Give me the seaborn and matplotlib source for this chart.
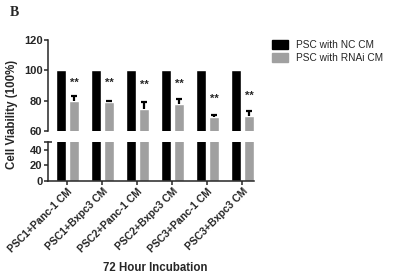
import numpy as np
import pandas as pd
import seaborn as sns
import matplotlib.pyplot as plt
from matplotlib.patches import Patch

# values
groups = ['PSC1+Panc-1 CM', 'PSC1+Bxpc3 CM', 'PSC2+Panc-1 CM',
          'PSC2+Bxpc3 CM', 'PSC3+Panc-1 CM', 'PSC3+Bxpc3 CM']
series = ['PSC with NC CM', 'PSC with RNAi CM']
nc_values = [100, 100, 100, 100, 100, 100]
rnai_values = [80.0, 78.9, 74.3, 78.0, 69.5, 69.7]
rnai_err = [3.4, 1.0, 4.8, 3.3, 1.3, 3.7]
star_y = [91.5, 91.5, 90.5, 91, 81, 83]
colors = ['#000000', '#a0a0a0']

df = pd.DataFrame({
    'Group': groups * 2,
    'Series': [series[0]] * 6 + [series[1]] * 6,
    'Viability': nc_values + rnai_values,
})

sns.set_style('ticks')
plt.rcParams['font.family'] = ['Liberation Sans', 'DejaVu Sans']

fig = plt.figure(figsize=(3.98, 2.76), dpi=100)
ax_top = fig.add_axes([48 / 398, 145 / 276, 206 / 398, 91 / 276])
ax_bot = fig.add_axes([48 / 398, 95 / 276, 206 / 398, 39.3 / 276])

for ax in (ax_top, ax_bot):
    sns.barplot(data=df, x='Group', y='Viability', hue='Series', palette=colors,
                order=groups, hue_order=series, width=0.74, gap=0.216,
                errorbar=None, legend=False, ax=ax)
    ax.set_xlim(-0.557, 5.33)
    ax.set_xlabel('')
    ax.set_ylabel('')
    sns.despine(ax=ax)

# upper-only error bars and significance stars on the RNAi bars (top axis)
rnai_patches = ax_top.patches[6:12]
xs = np.array([p.get_x() + p.get_width() / 2 for p in rnai_patches])
tops = np.array(rnai_values) + np.array(rnai_err)
ax_top.vlines(xs, rnai_values, tops, color='black', linewidth=1.6)
ax_top.hlines(tops, xs - 0.075, xs + 0.075, color='black', linewidth=1.6)
for x, y in zip(xs, star_y):
    ax_top.text(x, y, '**', ha='center', va='center', fontsize=8, fontweight='bold')

ax_top.set_ylim(60, 120)
ax_top.set_yticks([60, 80, 100, 120])
ax_top.spines['bottom'].set_visible(False)
ax_top.tick_params(axis='x', bottom=False, labelbottom=False)

ax_bot.set_ylim(0, 50)
ax_bot.set_yticks([0, 20, 40])
ax_bot.set_yticks([50], minor=True)
ax_bot.tick_params(axis='y', which='minor', direction='inout', length=6, width=1.1)

for ax in (ax_top, ax_bot):
    ax.tick_params(axis='both', which='major', length=3, width=1.1, labelsize=8, pad=1)
    for s in ('left', 'bottom'):
        ax.spines[s].set_linewidth(1.1)
    for lab in ax.get_yticklabels():
        lab.set_fontweight('bold')

ax_bot.set_xticks(range(6))
ax_bot.set_xticklabels(groups, rotation=45, ha='right', rotation_mode='anchor',
                       fontsize=7.5, fontweight='bold')

fig.text(155 / 398, 1 - 268 / 276, '72 Hour Incubation', ha='center', va='center',
         fontsize=8.3, fontweight='bold')
fig.text(12 / 398, 1 - 114 / 276, 'Cell Viability (100%)', ha='center', va='center',
         rotation=90, fontsize=8.3, fontweight='bold')
fig.text(10 / 398, 1 - 12 / 276, 'B', ha='left', va='center', fontsize=10,
         fontweight='bold', family='Liberation Serif')

handles = [Patch(facecolor=c, edgecolor=c) for c in colors]
fig.legend(handles, series, loc='upper left', bbox_to_anchor=(268 / 398, 1 - 36 / 276),
           frameon=False, fontsize=7.3, handlelength=1.6, handleheight=0.9,
           labelspacing=0.3, handletextpad=0.8, borderaxespad=0)

fig.savefig('out.png', dpi=100)
